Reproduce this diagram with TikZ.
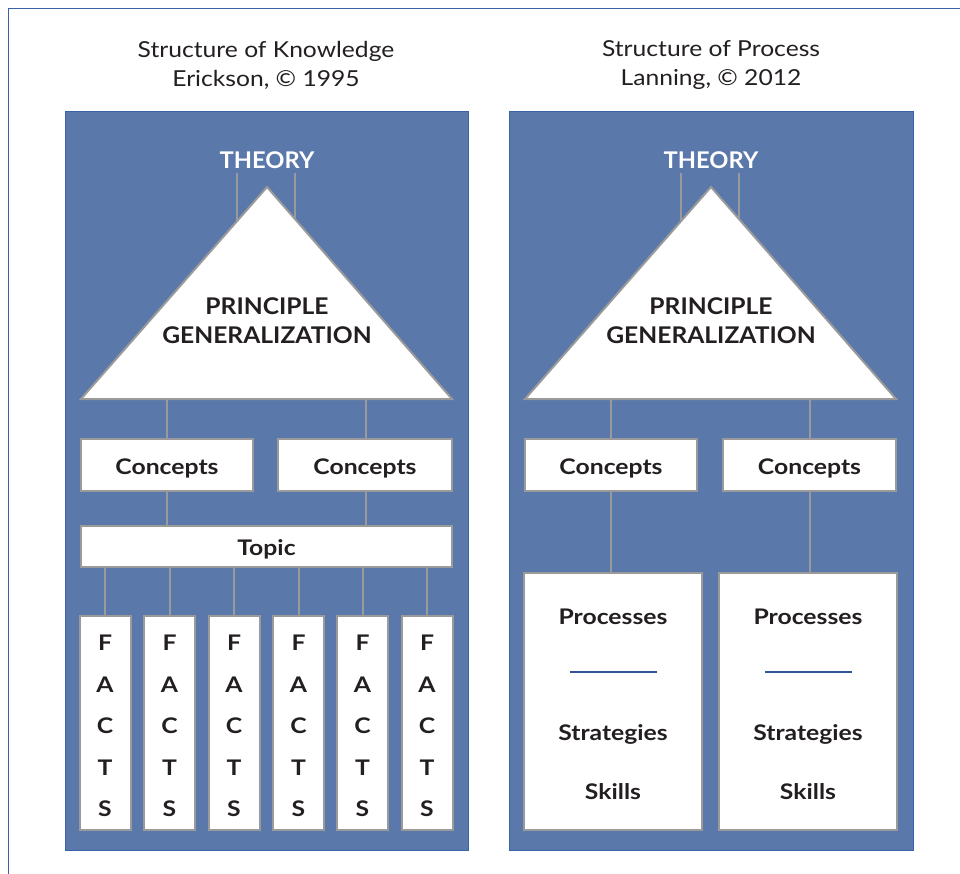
\documentclass[tikz,border=0pt]{standalone}
\usepackage{fontspec}
\setmainfont{Lato}
\newfontfamily\lblfont[FakeStretch=1.15]{Lato}
\newfontfamily\capfont[FakeStretch=1.07]{Lato}
\newfontfamily\thfont[FakeStretch=1.03]{Lato}
\newfontfamily\titlefont[FakeStretch=1.12]{Lato}
\usetikzlibrary{calc}
\definecolor{panel}{HTML}{5A78A9}
\definecolor{panelborder}{HTML}{3A62A8}
\definecolor{boxgray}{HTML}{9A9A9A}
\definecolor{ink}{HTML}{231F20}
\definecolor{rulecol}{HTML}{2F5597}
\begin{document}
\begin{tikzpicture}[x=1pt,y=-1pt,
  panelbox/.style={draw=panelborder,line width=1pt,fill=panel,inner sep=0pt,outer sep=0pt,anchor=north west},
  box/.style={draw=boxgray,line width=2pt,fill=white,inner sep=0pt,outer sep=0pt,text=ink},
  conn/.style={draw=boxgray,line width=2pt},
  tri/.style={draw=boxgray,line width=2pt,fill=white,line join=miter},
  title/.style={font=\titlefont\fontsize{22}{29}\selectfont,text=ink,align=center},
  theory/.style={font=\thfont\fontsize{23}{28}\selectfont\bfseries,text=white},
  big/.style={font=\capfont\fontsize{23}{29}\selectfont\bfseries,text=ink,align=center},
  lbl/.style={font=\lblfont\fontsize{21.5}{25}\selectfont\bfseries},
  boxlbl/.style={lbl,text height=18.5pt,text depth=0pt},
  factbox/.style={box,minimum width=51,minimum height=214},
  factletters/.style={font=\lblfont\fontsize{21.5}{41.5}\selectfont\bfseries,text=ink,align=center,inner sep=0pt},
  sep/.style={draw=rulecol,line width=2pt}
]
\useasboundingbox (0,0) rectangle (960,873);
% outer frame
\draw[panelborder,line width=1pt] (8,880) -- (8,8) -- (970,8);

% titles
\node[title] (t1) at (266,65) {Structure of Knowledge\\Erickson, © 1995};
\node[title] (t2) at (711,65) {Structure of Process\\Lanning, © 2012};

% panels
\node[panelbox,minimum width=403,minimum height=739] (p1) at (65,111) {};
\node[panelbox,minimum width=404,minimum height=739] (p2) at (509,111) {};

% ===== left panel =====
\node[theory] (th1) at (267,160) {THEORY};
\coordinate (tl1) at (237,173);
\coordinate (tr1) at (295,173);
\coordinate (el1) at (237,221.2);
\coordinate (er1) at (295,219.1);
\draw[conn] (tl1) -- (el1);
\draw[conn] (tr1) -- (er1);
\coordinate (ap1) at (267,187);
\coordinate (bl1) at (81,399);
\coordinate (br1) at (452,399);
\path[tri] (ap1) -- (br1) -- (bl1) -- cycle;
\node[big] (pg1) at (267,321) {PRINCIPLE\\GENERALIZATION};

\node[box,boxlbl,minimum width=172,minimum height=52] (c1) at (167,465) {Concepts};
\node[box,boxlbl,minimum width=174,minimum height=52] (c2) at (365,465) {Concepts};
\coordinate (b1) at (167,399);
\coordinate (b2) at (366,399);
\draw[conn] (b1) -- (b1 |- c1.north);
\draw[conn] (b2) -- (b2 |- c2.north);

\node[box,boxlbl,minimum width=371,minimum height=41] (tp) at (266.5,546.5) {Topic};
\draw[conn] (c1.south) -- (c1.south |- tp.north);
\draw[conn] (b2 |- c2.south) -- (b2 |- tp.north);

\foreach \i/\x in {1/105,2/169.5,3/234,4/298.5,5/362.5,6/427}{
  \node[factbox] (f\i) at (\x,723) {};
  \node[factletters] (fl\i) at (\x,726) {F\\A\\C\\T\\S};
  \draw[conn] (f\i.north |- tp.south) -- (f\i.north);
}

% ===== right panel =====
\node[theory] (th2) at (711,160) {THEORY};
\coordinate (tl2) at (681,173);
\coordinate (tr2) at (739,173);
\coordinate (el2) at (681,221.2);
\coordinate (er2) at (739,219.1);
\draw[conn] (tl2) -- (el2);
\draw[conn] (tr2) -- (er2);
\coordinate (ap2) at (711,187);
\coordinate (bl2) at (525,399);
\coordinate (br2) at (896,399);
\path[tri] (ap2) -- (br2) -- (bl2) -- cycle;
\node[big] (pg2) at (711,321) {PRINCIPLE\\GENERALIZATION};

\node[box,boxlbl,minimum width=172,minimum height=52] (c3) at (611,465) {Concepts};
\node[box,boxlbl,minimum width=173,minimum height=52] (c4) at (809.5,465) {Concepts};
\coordinate (b3) at (611,399);
\coordinate (b4) at (810,399);
\draw[conn] (b3) -- (b3 |- c3.north);
\draw[conn] (b4) -- (b4 |- c4.north);

\node[box,minimum width=178,minimum height=257] (pr1) at (613,701.5) {};
\node[box,minimum width=178,minimum height=257] (pr2) at (808,701.5) {};
\draw[conn] (b3 |- c3.south) -- (b3 |- pr1.north);
\draw[conn] (b4 |- c4.south) -- (b4 |- pr2.north);

\foreach \p/\x in {1/613,2/808}{
  \node[lbl,text=ink] (ps\p) at (\x,617) {Processes};
  \coordinate (sl\p) at (\x-43.5,672);
  \coordinate (sr\p) at (\x+43.5,672);
  \draw[sep] (sl\p) -- (sr\p);
  \node[lbl,text=ink] (st\p) at (\x,734) {Strategies};
  \node[lbl,text=ink] (sk\p) at (\x,792) {Skills};
}
\end{tikzpicture}
\end{document}
